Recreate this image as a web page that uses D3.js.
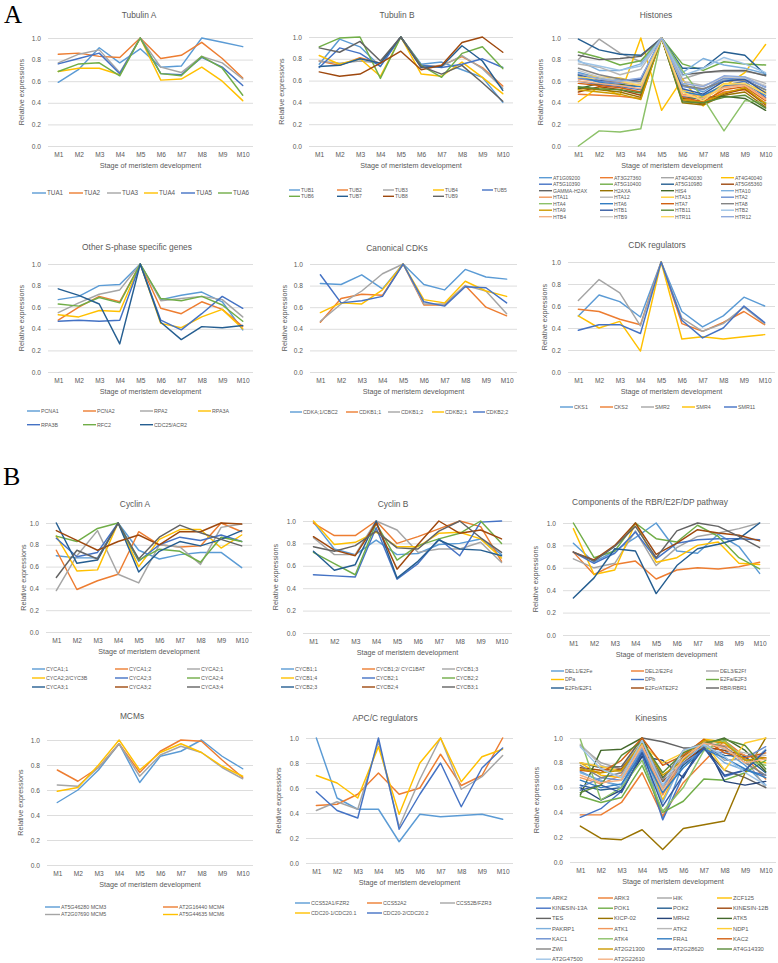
<!DOCTYPE html>
<html><head><meta charset="utf-8">
<script src="https://cdn.jsdelivr.net/npm/d3@7"></script>
<style>body{margin:0;background:#fff}svg{display:block}</style>
</head><body>
<svg id="c" width="778" height="963"></svg>
<script>
const stages = ["M1","M2","M3","M4","M5","M6","M7","M8","M9","M10"];
const yTickValues = [0, 0.2, 0.4, 0.6, 0.8, 1.0];
const palette = ["#5B9BD5","#ED7D31","#A5A5A5","#FFC000","#4472C4","#70AD47","#255E91","#9E480E","#636363","#997300","#264478","#43682B","#7CAFDD","#F1975A","#B7B7B7","#FFCD33","#698ED0","#8CC168","#327DC2","#D26012","#848484","#CC9A00","#335AA1","#5A8A39","#9DC3E6","#F4B183","#C9C9C9","#FFD966","#8FAADC"];

// ---- A: Tubulin A
const tubulinANames = ["TUA1","TUA2","TUA3","TUA4","TUA5","TUA6"];
const tubulinAValues = [
 [0.59,0.71,0.91,0.77,0.90,0.73,0.74,1.00,0.96,0.92],
 [0.85,0.86,0.83,0.82,1.00,0.81,0.84,0.96,0.81,0.63],
 [0.77,0.85,0.89,0.68,1.00,0.73,0.68,0.83,0.77,0.62],
 [0.69,0.72,0.72,0.66,1.00,0.61,0.62,0.73,0.60,0.42],
 [0.76,0.81,0.86,0.67,1.00,0.67,0.66,0.82,0.73,0.56],
 [0.69,0.76,0.77,0.65,1.00,0.67,0.65,0.83,0.72,0.47]];

// ---- Tubulin B
const tubulinBNames = ["TUB1","TUB2","TUB3","TUB4","TUB5","TUB6","TUB7","TUB8","TUB9"];
const tubulinBValues = [
 [0.75,0.98,0.91,0.73,1.00,0.75,0.77,0.70,0.63,0.40],
 [0.78,0.74,0.81,0.76,1.00,0.72,0.74,0.82,0.72,0.55],
 [0.78,0.76,0.78,0.76,1.00,0.74,0.73,0.83,0.71,0.53],
 [0.83,0.75,0.80,0.64,1.00,0.66,0.64,0.77,0.63,0.48],
 [0.72,0.90,0.85,0.73,1.00,0.74,0.72,0.75,0.80,0.72],
 [0.91,0.99,1.00,0.62,1.00,0.74,0.63,0.85,0.91,0.71],
 [0.73,0.74,0.80,0.76,1.00,0.72,0.73,0.92,0.78,0.51],
 [0.68,0.64,0.66,0.76,0.87,0.70,0.74,0.95,1.00,0.86],
 [0.90,0.86,0.96,0.78,1.00,0.73,0.66,0.74,0.58,0.41]];

// ---- Histones
const histoneNames = ["AT1G09200","AT3G27360","AT4G40030","AT4G40040","AT5G10390","AT5G10400","AT5G10980","AT5G65360","GAMMA-H2AX","H2AXA","HIS4","HTA10","HTA11","HTA12","HTA13","HTA2","HTA4","HTA6","HTA7","HTA8","HTA9","HTB1","HTB11","HTB2","HTB4","HTB9","HTR11","HTR12"];
const histoneValues = [
 [0.68,0.63,0.61,0.62,1,0.57,0.50,0.62,0.61,0.52],
 [0.48,0.47,0.46,0.44,1,0.44,0.40,0.50,0.52,0.40],
 [0.80,0.99,0.86,0.78,1,0.62,0.68,0.69,0.69,0.66],
 [0.41,0.55,0.47,1.00,0.33,0.62,0.37,0.55,0.68,0.94],
 [0.60,0.57,0.55,0.52,1,0.46,0.43,0.56,0.60,0.45],
 [0.87,0.82,0.75,0.79,1,0.76,0.70,0.78,0.76,0.75],
 [0.99,0.89,0.85,0.84,1,0.72,0.72,0.87,0.84,0.66],
 [0.50,0.55,0.52,0.47,1,0.42,0.39,0.48,0.53,0.38],
 [0.84,0.80,0.81,0.83,1,0.66,0.68,0.70,0.70,0.65],
 [0.54,0.52,0.50,0.45,1,0.40,0.38,0.47,0.50,0.36],
 [0.53,0.58,0.57,0.55,1,0.44,0.45,0.46,0.44,0.33],
 [0.79,0.70,0.70,0.76,1,0.68,0.81,0.75,0.72,0.67],
 [0.62,0.60,0.59,0.56,1,0.48,0.46,0.55,0.57,0.44],
 [0.76,0.73,0.66,0.71,1,0.60,0.56,0.62,0.64,0.58],
 [0.66,0.64,0.63,0.58,1,0.52,0.45,0.58,0.58,0.50],
 [0.63,0.60,0.58,0.60,1,0.55,0.52,0.63,0.62,0.55],
 [0.00,0.14,0.13,0.16,1,0.70,0.44,0.14,0.42,0.40],
 [0.65,0.59,0.56,0.55,1,0.50,0.47,0.56,0.58,0.47],
 [0.58,0.56,0.54,0.50,1,0.45,0.41,0.52,0.55,0.42],
 [0.72,0.66,0.62,0.60,1,0.56,0.53,0.60,0.61,0.52],
 [0.52,0.50,0.48,0.43,1,0.43,0.40,0.49,0.54,0.39],
 [0.66,0.61,0.60,0.62,1,0.53,0.48,0.60,0.62,0.49],
 [0.55,0.53,0.52,0.49,1,0.41,0.40,0.45,0.47,0.35],
 [0.78,0.74,0.70,0.74,1,0.65,0.72,0.82,0.76,0.68],
 [0.60,0.58,0.56,0.53,1,0.47,0.44,0.54,0.56,0.43],
 [0.70,0.64,0.60,0.58,1,0.58,0.55,0.64,0.63,0.56],
 [0.64,0.62,0.60,0.56,1,0.50,0.42,0.57,0.58,0.48],
 [0.67,0.62,0.60,0.63,1,0.58,0.55,0.65,0.64,0.54]];

// ---- Other S-phase specific genes
const sPhaseNames = ["PCNA1","PCNA2","RPA2","RPA3A","RPA3B","RFC2","CDC25/ACR2"];
const sPhaseValues = [
 [0.67,0.70,0.80,0.81,1.00,0.67,0.71,0.74,0.65,0.39],
 [0.48,0.60,0.70,0.65,1.00,0.59,0.54,0.65,0.58,0.42],
 [0.55,0.64,0.72,0.76,1.00,0.66,0.68,0.70,0.67,0.51],
 [0.53,0.51,0.57,0.56,1.00,0.45,0.41,0.51,0.58,0.40],
 [0.47,0.48,0.47,0.48,1.00,0.48,0.39,0.54,0.70,0.59],
 [0.63,0.61,0.69,0.64,1.00,0.68,0.66,0.70,0.62,0.47],
 [0.77,0.71,0.63,0.26,1.00,0.46,0.30,0.42,0.41,0.43]];

// ---- Canonical CDKs
const cdkNames = ["CDKA;1/CBC2","CDKB1;1","CDKB1;2","CDKB2;1","CDKB2;2"];
const cdkValues = [
 [0.82,0.81,0.90,0.77,1.00,0.81,0.76,0.95,0.88,0.86],
 [0.46,0.68,0.72,0.71,1.00,0.62,0.62,0.80,0.60,0.52],
 [0.47,0.63,0.75,0.91,1.00,0.63,0.63,0.80,0.75,0.54],
 [0.55,0.64,0.63,0.76,1.00,0.67,0.64,0.84,0.75,0.70],
 [0.90,0.64,0.66,0.70,1.00,0.65,0.61,0.79,0.78,0.64]];

// ---- CDK regulators
const cdkRegNames = ["CKS1","CKS2","SMR2","SMR4","SMR11"];
const cdkRegValues = [
 [0.51,0.70,0.64,0.50,1.00,0.55,0.41,0.51,0.68,0.60],
 [0.57,0.55,0.48,0.43,1.00,0.44,0.37,0.45,0.55,0.43],
 [0.65,0.84,0.72,0.42,1.00,0.49,0.37,0.44,0.59,0.44],
 [0.51,0.40,0.46,0.19,1.00,0.30,0.32,0.30,0.32,0.34],
 [0.38,0.43,0.43,0.35,1.00,0.47,0.31,0.40,0.60,0.45]];

// ---- B: Cyclin A
const cyclinANames = ["CYCA1;1","CYCA1;2","CYCA2;1"," CYCA2;2/CYC3B","CYCA2;3","CYCA2;4","CYCA3;1","CYCA3;2","CYCA3;4"];
const cyclinAValues = [
 [0.70,0.68,0.68,1.00,0.75,0.67,0.71,0.73,0.73,0.59],
 [0.75,0.39,0.47,0.53,0.92,0.80,0.78,0.79,1.00,0.92],
 [0.38,0.70,0.93,0.53,0.45,0.80,0.78,0.62,0.96,0.99],
 [0.88,0.56,0.57,1.00,0.60,0.85,0.94,0.94,0.77,0.89],
 [0.86,0.69,0.73,1.00,0.65,0.80,0.87,0.84,0.89,0.83],
 [0.88,0.83,0.95,1.00,0.66,0.76,0.74,0.64,0.87,0.83],
 [1.00,0.63,0.66,1.00,0.55,0.74,0.83,0.79,0.85,0.93],
 [0.93,0.84,0.75,0.83,0.89,0.80,0.92,0.92,1.00,0.99],
 [0.50,0.75,0.67,1.00,0.67,0.87,0.98,0.91,0.85,0.79]];

// ---- Cyclin B
const cyclinBNames = ["CYCB1;1","CYCB1;2/ CYC1BAT","CYCB1;3","CYCB1;4","CYCB2;1","CYCB2;2","CYCB2;3","CYCB2;4","CYCB3;1"];
const cyclinBValues = [
 [0.99,0.75,0.70,0.83,0.70,0.71,0.79,0.80,0.84,0.70],
 [0.98,0.87,0.87,1.00,0.80,0.86,0.93,1.00,0.95,0.64],
 [0.85,0.70,0.70,1.00,0.92,0.72,0.75,0.75,0.81,0.63],
 [1.00,0.79,0.81,0.90,0.77,0.77,0.89,0.90,0.84,0.67],
 [0.52,0.51,0.50,0.94,0.48,0.62,0.84,0.69,0.99,1.00],
 [0.72,0.62,0.52,0.98,0.65,0.78,0.84,0.89,1.00,0.80],
 [0.73,0.56,0.61,1.00,0.49,0.64,0.83,0.75,0.74,0.69],
 [0.86,0.74,0.69,0.98,0.57,0.79,1.00,0.89,0.92,0.84],
 [0.77,0.73,0.78,0.91,0.76,0.75,0.91,1.00,0.85,0.72]];

// ---- RBR/E2F/DP pathway
const rbrNames = ["DEL1/E2Fe","DEL2/E2Fd","DEL3/E2Ff","DPa","DPb","E2Fa/E2F3","E2Fb/E2F1","E2Fc/ATE2F2","RBR/RBR1"];
const rbrValues = [
 [0.82,0.65,0.75,0.87,1.00,0.75,0.73,0.90,0.79,0.55],
 [0.74,0.54,0.63,0.66,0.50,0.58,0.60,0.59,0.61,0.65],
 [0.68,0.60,0.64,0.93,0.62,0.78,0.88,0.91,0.95,1.00],
 [0.95,0.54,0.58,1.00,0.65,0.69,0.80,0.83,0.64,0.63],
 [0.74,0.64,0.73,0.92,0.68,0.82,0.85,0.86,0.86,0.85],
 [1.00,0.69,0.75,1.00,0.86,0.83,0.98,0.88,0.69,0.59],
 [0.33,0.51,0.77,0.75,0.37,0.62,0.77,0.81,0.86,1.00],
 [0.74,0.67,0.80,1.00,0.72,0.82,0.94,0.91,0.89,0.84],
 [0.74,0.66,0.79,0.97,0.69,0.93,1.00,0.97,0.88,0.78]];

// ---- MCMs
const mcmNames = ["AT5G46280 MCM3","AT2G16440 MCM4","AT2G07690 MCM5","AT5G44635 MCM6"];
const mcmValues = [
 [0.50,0.60,0.76,0.97,0.66,0.87,0.91,1.00,0.87,0.77],
 [0.76,0.67,0.78,0.97,0.74,0.91,1.00,0.99,0.84,0.70],
 [0.64,0.63,0.78,0.97,0.71,0.88,0.95,0.90,0.78,0.69],
 [0.59,0.62,0.80,1.00,0.76,0.90,0.97,0.90,0.79,0.71]];

// ---- APC/C regulators
const apcNames = ["CCS52A1/FZR2","CCS52A2","CCS52B/FZR3","CDC20-1/CDC20.1","CDC20-2/CDC20.2"];
const apcValues = [
 [1.00,0.52,0.43,0.43,0.17,0.39,0.37,0.38,0.39,0.35],
 [0.46,0.47,0.55,0.72,0.55,0.60,0.87,0.62,0.70,1.00],
 [0.42,0.49,0.43,0.97,0.29,0.67,1.00,0.59,0.69,0.86],
 [0.70,0.64,0.52,0.93,0.39,0.80,1.00,0.65,0.85,0.91],
 [0.57,0.42,0.36,1.00,0.27,0.55,0.80,0.45,0.76,0.92]];

// ---- Kinesins
const kinesinNames = ["ARK2","ARK3","HIK","ZCF125","KINESIN-13A","POK1","POK2","KINESIN-12B","TES","KICP-02","MRH2","ATK5","PAKRP1","ATK1","ATK2","NDP1","KAC1","ATK4","FRA1","KAC2","ZWI","AT2G21300","AT2G28620","AT4G14330","AT2G47500","AT2G22610"];
const kinesinValues = [
 [0.73,0.65,0.62,0.93,0.35,0.80,0.92,0.90,0.78,0.62],
 [0.38,0.38,0.48,0.72,0.37,0.64,0.81,0.98,0.85,0.67],
 [0.94,0.80,0.75,1.00,0.55,0.85,0.97,0.82,0.83,0.60],
 [0.80,0.70,0.68,0.96,0.50,0.85,0.99,0.97,0.82,0.80],
 [0.36,0.43,0.57,0.86,0.34,0.70,0.93,0.69,0.74,0.70],
 [0.53,0.48,0.52,0.78,0.40,0.49,0.67,0.66,0.72,0.82],
 [0.62,0.58,0.60,0.90,0.60,0.78,0.92,0.86,0.85,0.72],
 [0.76,0.74,0.75,0.95,0.65,0.80,0.93,0.90,0.86,0.84],
 [0.80,0.76,0.77,1.00,0.97,0.92,0.92,0.74,0.68,0.60],
 [0.29,0.19,0.18,0.26,0.10,0.27,0.30,0.33,0.72,1.00],
 [0.60,0.50,0.58,0.85,0.82,0.68,0.98,0.65,0.62,0.65],
 [0.54,0.90,0.91,1.00,0.68,0.85,0.95,1.00,0.90,0.73],
 [0.72,0.66,0.60,0.92,0.48,0.82,0.94,0.80,0.74,0.91],
 [0.68,0.63,0.70,0.94,0.54,0.83,0.96,0.94,0.86,0.83],
 [0.95,0.78,0.72,0.98,0.60,0.87,0.98,0.91,0.88,0.86],
 [0.80,0.77,0.73,0.95,0.80,0.88,0.97,0.74,0.96,1.00],
 [0.60,0.68,0.66,0.90,0.62,0.80,0.90,0.88,0.84,0.93],
 [0.99,0.50,0.60,0.82,0.41,0.60,0.90,0.98,0.82,0.78],
 [0.66,0.60,0.63,0.88,0.56,0.76,0.91,0.84,0.75,0.68],
 [0.74,0.72,0.82,1.00,0.78,0.86,0.99,0.88,0.84,0.88],
 [0.78,0.68,0.72,0.97,0.66,0.90,0.96,0.93,0.80,0.70],
 [0.75,0.72,0.74,0.97,0.70,0.82,0.98,0.96,0.82,0.84],
 [0.58,0.62,0.56,0.88,0.45,0.70,0.92,0.70,0.74,0.90],
 [0.56,0.62,0.86,0.97,0.72,0.88,0.96,0.99,0.94,0.75],
 [0.93,0.75,0.68,0.98,0.62,0.90,0.95,0.85,0.72,0.62],
 [0.70,0.64,0.66,0.94,0.58,0.84,0.96,0.92,0.80,0.83]];

// histone colours follow the legend swatches (one slot skipped after item 10)
const histoneColors = histoneNames.map((n,i) => palette[i < 10 ? i : i + 1]);
const std = names => names.map((n,i) => palette[i]);

// ---- layout (positions only)
const panels = [
 {title:"Tubulin A", names:tubulinANames, values:tubulinAValues, colors:std(tubulinANames),
  x0:48, x1:253, yt:38, yb:146, tx:139, ty:18, ylx:21,
  leg:{cols:[32,69,107,144,181,218], y0:193, dy:0, len:14, fs:6.3}},
 {title:"Tubulin B", names:tubulinBNames, values:tubulinBValues, colors:std(tubulinBNames),
  x0:309, x1:513, yt:37, yb:146, tx:397, ty:18, ylx:281,
  leg:{cols:[289,337,383,433,482], y0:190, dy:6.3, len:11, fs:5}},
 {title:"Histones", names:histoneNames, values:histoneValues, colors:histoneColors,
  x0:568, x1:776, yt:38, yb:146, tx:656, ty:18, ylx:540,
  leg:{cols:[539,600,661,721], y0:177.7, dy:6.5, len:13, fs:5.1}},
 {title:"Other S-phase specific genes", names:sPhaseNames, values:sPhaseValues, colors:std(sPhaseNames),
  x0:48, x1:253, yt:264, yb:372, tx:137, ty:250, ylx:21,
  leg:{cols:[27,83,140,198], y0:411, dy:13.7, len:13, fs:5.3}},
 {title:"Canonical CDKs", names:cdkNames, values:cdkValues, colors:std(cdkNames),
  x0:310, x1:517, yt:264, yb:372, tx:397, ty:251, ylx:284,
  leg:{cols:[290,346,388,432,473], y0:412, dy:0, len:12, fs:5.3}},
 {title:"CDK regulators", names:cdkRegNames, values:cdkRegValues, colors:std(cdkRegNames),
  x0:568, x1:775, yt:262, yb:372, tx:657, ty:248, ylx:544,
  leg:{cols:[560,600,641,682,724], y0:407, dy:0, len:13, fs:5.3}},
 {title:"Cyclin A", names:cyclinANames, values:cyclinAValues, colors:std(cyclinANames),
  x0:46, x1:252, yt:523, yb:632, tx:135, ty:507, ylx:23,
  leg:{cols:[32,115,187], y0:669, dy:9, len:13, fs:5.3}},
 {title:"Cyclin B", names:cyclinBNames, values:cyclinBValues, colors:std(cyclinBNames),
  x0:303, x1:512, yt:521, yb:633, tx:393, ty:507, ylx:275,
  leg:{cols:[281,362,442], y0:669, dy:9, len:13, fs:5.3}},
 {title:"Components of the RBR/E2F/DP pathway", names:rbrNames, values:rbrValues, colors:std(rbrNames),
  x0:563, x1:770, yt:523, yb:635, tx:650, ty:505, ylx:535,
  leg:{cols:[551,631,706], y0:671, dy:8.5, len:13, fs:5.3}},
 {title:"MCMs", names:mcmNames, values:mcmValues, colors:std(mcmNames),
  x0:47, x1:253, yt:740, yb:865, tx:132, ty:719, ylx:20,
  leg:{cols:[45,163], y0:907, dy:7.5, len:15, fs:5.3}},
 {title:"APC/C regulators", names:apcNames, values:apcValues, colors:std(apcNames),
  x0:306, x1:513, yt:738, yb:863, tx:385, ty:721, ylx:278,
  leg:{cols:[295,367,440], y0:903, dy:10, len:15, fs:5.3}},
 {title:"Kinesins", names:kinesinNames, values:kinesinValues, colors:std(kinesinNames),
  x0:570, x1:776, yt:738, yb:862, tx:651, ty:721, ylx:536,
  leg:{cols:[536,598,657,717], y0:898, dy:10.2, len:15, fs:5.8}}
];

const FONT = "'Liberation Sans', Arial, sans-serif";
const TXT = "#595959";
const svg = d3.select("#c");
svg.append("rect").attr("width",778).attr("height",963).attr("fill","#fff");

svg.append("text").attr("x",4).attr("y",23).text("A")
  .attr("font-family","'Liberation Serif', 'Times New Roman', serif").attr("font-size",25).attr("fill","#000");
svg.append("text").attr("x",3).attr("y",485).text("B")
  .attr("font-family","'Liberation Serif', 'Times New Roman', serif").attr("font-size",26).attr("fill","#000");

panels.forEach(p => {
  const g = svg.append("g");
  const x = d3.scalePoint().domain(stages).range([p.x0, p.x1]).padding(0.5);
  const y = d3.scaleLinear().domain([0, 1]).range([p.yb, p.yt]);

  const ya = g.append("g").attr("transform", `translate(${p.x0},0)`)
    .call(d3.axisLeft(y).tickValues(yTickValues).tickFormat(d3.format(".1f"))
      .tickSize(-(p.x1 - p.x0)).tickPadding(7));
  ya.select(".domain").remove();
  ya.selectAll(".tick line").attr("stroke", "#D9D9D9").attr("stroke-width", 0.9);
  ya.attr("font-family", FONT).attr("font-size", 6.6);
  ya.selectAll(".tick text").attr("fill", TXT);

  const xa = g.append("g").attr("transform", `translate(0,${p.yb})`)
    .call(d3.axisBottom(x).tickSize(0).tickPadding(6));
  xa.select(".domain").remove();
  xa.attr("font-family", FONT).attr("font-size", 6.6);
  xa.selectAll(".tick text").attr("fill", TXT);

  const line = d3.line().x((d, i) => x(stages[i])).y(d => y(d));
  p.values.forEach((v, i) => {
    g.append("path").datum(v).attr("d", line).attr("fill", "none")
      .attr("stroke", p.colors[i]).attr("stroke-width", 1.45)
      .attr("stroke-linejoin", "round").attr("stroke-linecap", "round");
  });

  g.append("text").attr("x", p.tx).attr("y", p.ty).attr("text-anchor", "middle")
    .attr("font-family", FONT).attr("font-size", 8.4).attr("fill", TXT).text(p.title);
  g.append("text").attr("x", (p.x0 + p.x1) / 2).attr("y", p.yb + 22).attr("text-anchor", "middle")
    .attr("font-family", FONT).attr("font-size", 7.2).attr("fill", TXT).text("Stage of meristem development");
  g.append("text").attr("transform", `translate(${p.ylx + 2.5},${(p.yt + p.yb) / 2}) rotate(-90)`)
    .attr("text-anchor", "middle").attr("font-family", FONT).attr("font-size", 7.2).attr("fill", TXT)
    .text("Relative expressions");

  const L = p.leg, nc = L.cols.length;
  p.names.forEach((n, i) => {
    const cx = L.cols[i % nc], cy = L.y0 + Math.floor(i / nc) * L.dy;
    g.append("line").attr("x1", cx).attr("x2", cx + L.len).attr("y1", cy).attr("y2", cy)
      .attr("stroke", p.colors[i]).attr("stroke-width", 1.4);
    g.append("text").attr("x", cx + L.len + 1).attr("y", cy + L.fs * 0.36)
      .attr("font-family", FONT).attr("font-size", L.fs).attr("fill", TXT).text(n);
  });
});
</script>
</body></html>
